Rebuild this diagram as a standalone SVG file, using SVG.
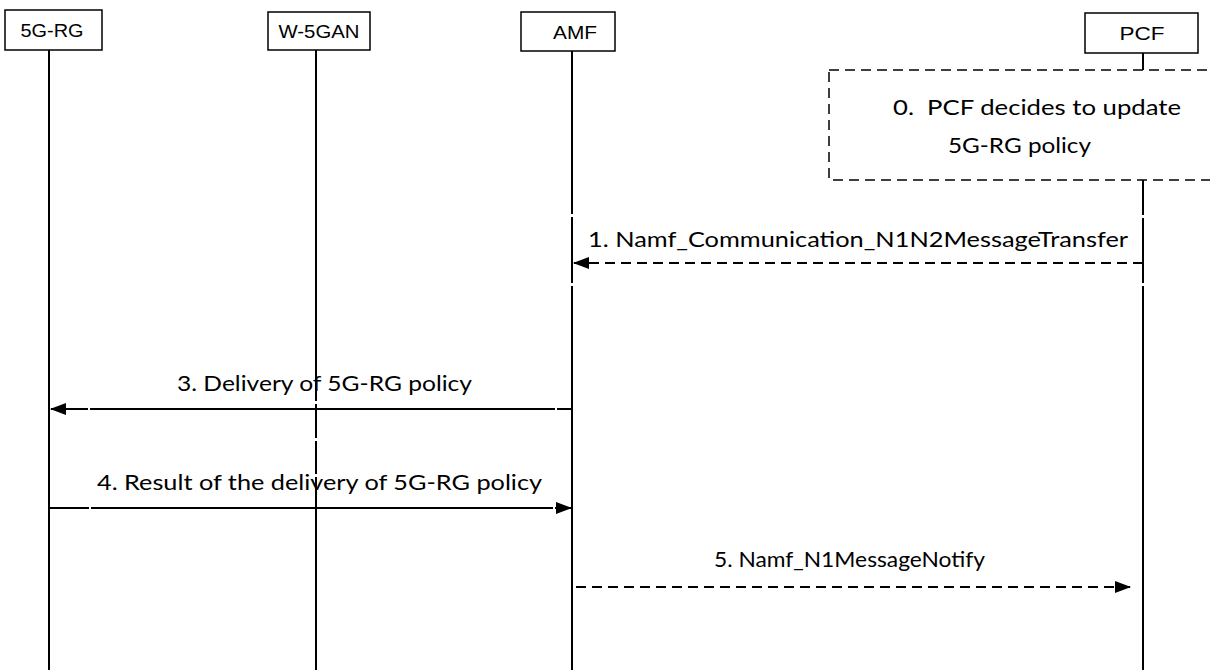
<svg xmlns="http://www.w3.org/2000/svg" width="1210" height="670" viewBox="0 0 1210 670">
<style>
.box{fill:#fff;stroke:#000;stroke-width:1.5}
.ent{font-family:"Liberation Sans",Arial,sans-serif;font-size:19px;fill:#000}
.lbl{font-family:"Lato","Noto Sans",sans-serif;font-size:21px;fill:#000}
.life{stroke:#000;stroke-width:2;fill:none}
.msg{stroke:#000;stroke-width:2;fill:none}
.dash{stroke-dasharray:10 6}
</style>
<defs>
<marker id="ah" markerWidth="16" markerHeight="12" refX="15" refY="6" orient="auto" markerUnits="userSpaceOnUse">
<path d="M0,0 L16,6 L0,12 z" fill="#000"/>
</marker>
</defs>
<g id="lifelines">
<line class="life" x1="49" y1="50" x2="49" y2="670"/>
<path class="life" d="M316,50 V401 M316,404 V438 M316,441 V474 M316,477 V670"/>
<path class="life" d="M572,51 V214 M572,217 V283 M572,286 V670"/>
<path class="life" d="M1143,53 V70 M1143,180 V215 M1143,218 V283 M1143,286 V670"/>
</g>
<g id="n-5grg"><rect class="box" x="5" y="10" width="97" height="40"/><text class="ent" x="52" y="37" text-anchor="middle" textLength="63" lengthAdjust="spacingAndGlyphs">5G-RG</text></g>
<g id="n-w5gan"><rect class="box" x="268" y="12" width="102" height="38"/><text class="ent" x="319" y="38" text-anchor="middle" textLength="81" lengthAdjust="spacingAndGlyphs">W-5GAN</text></g>
<g id="n-amf"><rect class="box" x="521" y="12" width="94" height="39"/><text class="ent" x="575" y="39" text-anchor="middle" textLength="44" lengthAdjust="spacingAndGlyphs">AMF</text></g>
<g id="n-pcf"><rect class="box" x="1085" y="13" width="113" height="40"/><text class="ent" x="1142" y="40" text-anchor="middle" textLength="45" lengthAdjust="spacingAndGlyphs">PCF</text></g>
<g id="n-step0">
<rect x="829" y="70" width="400" height="110" fill="none" stroke="#000" stroke-width="1.5" stroke-dasharray="10 6"/>
<text class="lbl" x="893" y="115" textLength="288" lengthAdjust="spacingAndGlyphs" xml:space="preserve">0.  PCF decides to update</text>
<text class="lbl" x="948" y="153" textLength="143" lengthAdjust="spacingAndGlyphs">5G-RG policy</text>
</g>
<g id="connectors">
<line class="msg dash" x1="1143" y1="263" x2="574" y2="263" marker-end="url(#ah)"/>
<text class="lbl" x="588" y="247" textLength="540" lengthAdjust="spacingAndGlyphs">1. Namf_Communication_N1N2MessageTransfer</text>
<path class="msg" d="M572,409 H557 M555,409 H90 M88,409 H51" marker-end="url(#ah)"/>
<text class="lbl" x="177" y="391" textLength="295" lengthAdjust="spacingAndGlyphs">3. Delivery of 5G-RG policy</text>
<path class="msg" d="M49,508 H89 M91,508 H553 M555,508 H571" marker-end="url(#ah)"/>
<text class="lbl" x="97" y="490" textLength="445" lengthAdjust="spacingAndGlyphs">4. Result of the delivery of 5G-RG policy</text>
<line class="msg dash" x1="576" y1="587" x2="1130" y2="587" marker-end="url(#ah)"/>
<text class="lbl" x="714" y="567" textLength="271" lengthAdjust="spacingAndGlyphs">5. Namf_N1MessageNotify</text>
</g>
</svg>
